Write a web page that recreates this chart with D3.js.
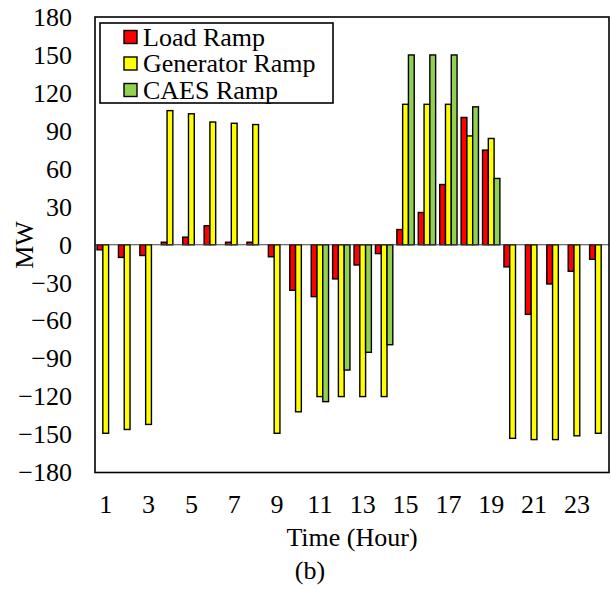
<!DOCTYPE html>
<html>
<head>
<meta charset="utf-8">
<script src="https://cdn.jsdelivr.net/npm/d3@7"></script>
<style>
  body { margin: 0; background: #fff; }
  svg text { font-family: "Liberation Serif", "Times New Roman", serif; fill: #000; }
</style>
</head>
<body>
<div id="chart"></div>
<script>
// hours 1..24
const hours = d3.range(1, 25);
const seriesNames = ["Load Ramp", "Generator Ramp", "CAES Ramp"];
const seriesColors = ["#ff0000", "#ffff00", "#92d050"];

// values (MW)
const loadRamp = [-4, -10, -8.5, 2, 6, 15, 2, 2, -9.5, -36, -41, -27, -16, -7, 12, 25.5, 47.6, 100.6, 74.8, -17.5, -55, -31, -21, -11.5];
const genRamp = [-149, -146, -142, 106, 103.5, 97, 96, 95, -149, -132, -120, -120, -120, -120, 111, 111, 111, 86, 84, -153, -154, -154, -151, -149];
const caesRamp = [0, 0, 0, 0, 0, 0, 0, 0, 0, 0, -124, -99, -85, -79, 150, 150, 150, 109, 52.4, 0, 0, 0, 0, 0];

const yTicks = d3.range(-180, 181, 30);
const xTickLabels = [1, 3, 5, 7, 9, 11, 13, 15, 17, 19, 21, 23];

const width = 611, height = 589;
const plotLeft = 95, plotRight = 609, plotTop = 17, plotBottom = 472.5;

const svg = d3.select("#chart").append("svg")
  .attr("width", width).attr("height", height);

const x0 = d3.scaleBand().domain(hours).range([plotLeft, plotRight])
  .paddingInner(0.19).paddingOuter(0.095);
const x1 = d3.scaleBand().domain(seriesNames).range([0, x0.bandwidth()]);
const y = d3.scaleLinear().domain([-180, 180]).range([plotBottom, plotTop]);

const allSeries = [loadRamp, genRamp, caesRamp];

// bars
seriesNames.forEach((name, si) => {
  svg.append("g")
    .selectAll("rect")
    .data(hours.map((h, i) => ({h: h, v: allSeries[si][i]})).filter(d => d.v !== 0))
    .join("rect")
    .attr("x", d => x0(d.h) + x1(name))
    .attr("width", x1.bandwidth())
    .attr("y", d => y(Math.max(0, d.v)))
    .attr("height", d => Math.abs(y(d.v) - y(0)))
    .attr("fill", seriesColors[si])
    .attr("stroke", "#000")
    .attr("stroke-width", 1.4);
});

// zero line
svg.append("line")
  .attr("x1", plotLeft).attr("x2", plotRight)
  .attr("y1", y(0)).attr("y2", y(0))
  .attr("stroke", "#444").attr("stroke-width", 1.2);

// plot frame
svg.append("rect")
  .attr("x", plotLeft).attr("y", plotTop)
  .attr("width", plotRight - plotLeft).attr("height", plotBottom - plotTop)
  .attr("fill", "none").attr("stroke", "#000").attr("stroke-width", 1.6);

// y axis labels
const yAxis = d3.axisLeft(y).tickValues(yTicks).tickSize(0).tickPadding(0);
svg.append("g")
  .attr("transform", `translate(72,0)`)
  .call(yAxis)
  .call(g => g.select(".domain").remove())
  .selectAll("text")
  .attr("font-family", "Liberation Serif, serif")
  .style("font-size", "26px");

// x axis labels (odd hours only)
const xAxis = d3.axisBottom(x0).tickValues(xTickLabels).tickSize(0).tickPadding(0);
svg.append("g")
  .attr("transform", `translate(0,${plotBottom + 22})`)
  .call(xAxis)
  .call(g => g.select(".domain").remove())
  .selectAll("text")
  .attr("font-family", "Liberation Serif, serif")
  .style("font-size", "26px");

svg.append("text")
  .attr("x", (plotLeft + plotRight) / 2).attr("y", 546)
  .attr("text-anchor", "middle")
  .style("font-size", "26px")
  .text("Time (Hour)");

svg.append("text")
  .attr("x", 310).attr("y", 579)
  .attr("text-anchor", "middle")
  .style("font-size", "26px")
  .text("(b)");

svg.append("text")
  .attr("transform", "translate(33,245) rotate(-90)")
  .attr("text-anchor", "middle")
  .style("font-size", "26px")
  .text("MW");

// legend
const legend = svg.append("g");
legend.append("rect")
  .attr("x", 100).attr("y", 23)
  .attr("width", 233).attr("height", 80)
  .attr("fill", "#fff").attr("stroke", "#000").attr("stroke-width", 1.6);

seriesNames.forEach((name, i) => {
  const cy = 37 + i * 26.5;
  legend.append("rect")
    .attr("x", 124).attr("y", cy - 6.5)
    .attr("width", 13).attr("height", 13)
    .attr("fill", seriesColors[i])
    .attr("stroke", "#000").attr("stroke-width", 1.4);
  legend.append("text")
    .attr("x", 143).attr("y", cy + 8.5)
    .style("font-size", "26px")
    .text(name);
});
</script>
</body>
</html>
